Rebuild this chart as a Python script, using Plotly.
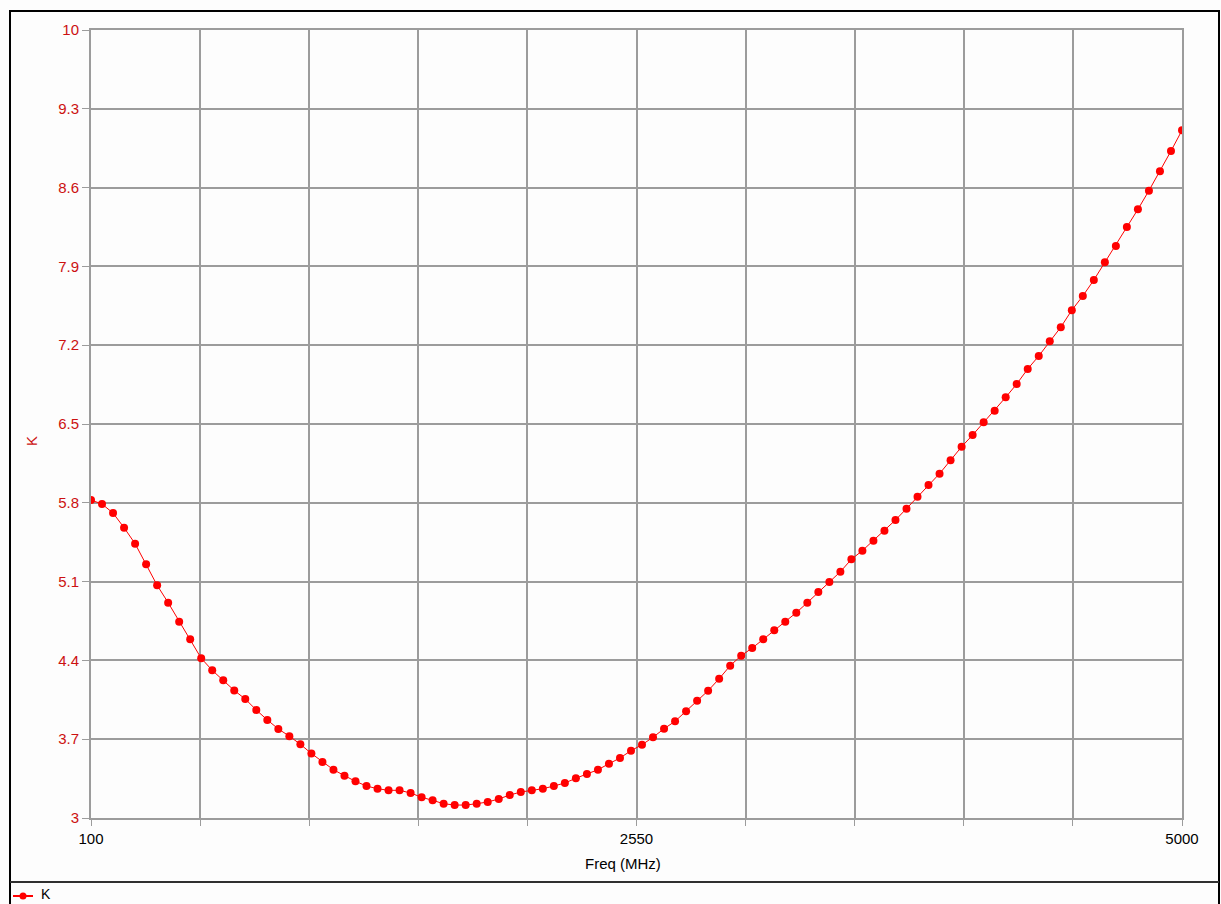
import plotly.graph_objects as go

# ---------------- data ----------------
freq_mhz = [
    100.0, 149.5, 199.0, 248.5, 298.0, 347.5, 397.0, 446.5, 496.0, 545.5,
    594.9, 644.4, 693.9, 743.4, 792.9, 842.4, 891.9, 941.4, 990.9, 1040.4,
    1089.9, 1139.4, 1188.9, 1238.4, 1287.9, 1337.4, 1386.9, 1436.4, 1485.9, 1535.4,
    1584.8, 1634.3, 1683.8, 1733.3, 1782.8, 1832.3, 1881.8, 1931.3, 1980.8, 2030.3,
    2079.8, 2129.3, 2178.8, 2228.3, 2277.8, 2327.3, 2376.8, 2426.3, 2475.8, 2525.3,
    2574.7, 2624.2, 2673.7, 2723.2, 2772.7, 2822.2, 2871.7, 2921.2, 2970.7, 3020.2,
    3069.7, 3119.2, 3168.7, 3218.2, 3267.7, 3317.2, 3366.7, 3416.2, 3465.7, 3515.2,
    3564.6, 3614.1, 3663.6, 3713.1, 3762.6, 3812.1, 3861.6, 3911.1, 3960.6, 4010.1,
    4059.6, 4109.1, 4158.6, 4208.1, 4257.6, 4307.1, 4356.6, 4406.1, 4455.6, 4505.1,
    4554.5, 4604.0, 4653.5, 4703.0, 4752.5, 4802.0, 4851.5, 4901.0, 4950.5, 5000.0,
]

k_values = [
    5.825, 5.789, 5.709, 5.579, 5.437, 5.254, 5.067, 4.913, 4.744, 4.588,
    4.419, 4.312, 4.223, 4.133, 4.057, 3.959, 3.871, 3.791, 3.727, 3.655,
    3.573, 3.497, 3.429, 3.376, 3.326, 3.284, 3.260, 3.246, 3.246, 3.222,
    3.184, 3.157, 3.127, 3.115, 3.115, 3.127, 3.142, 3.169, 3.204, 3.231,
    3.246, 3.260, 3.284, 3.311, 3.353, 3.391, 3.429, 3.482, 3.533, 3.598,
    3.651, 3.717, 3.793, 3.859, 3.948, 4.042, 4.131, 4.237, 4.353, 4.442,
    4.510, 4.587, 4.667, 4.744, 4.824, 4.913, 5.008, 5.096, 5.188, 5.298,
    5.375, 5.463, 5.552, 5.647, 5.748, 5.854, 5.958, 6.059, 6.178, 6.298,
    6.402, 6.515, 6.618, 6.737, 6.855, 6.989, 7.104, 7.236, 7.360, 7.511,
    7.637, 7.779, 7.936, 8.081, 8.250, 8.407, 8.573, 8.745, 8.925, 9.109,
]

x_tick_vals = [100, 590, 1080, 1570, 2060, 2550, 3040, 3530, 4020, 4510, 5000]
x_tick_text = ["100", "", "", "", "", "2550", "", "", "", "", "5000"]
y_tick_vals = [3, 3.7, 4.4, 5.1, 5.8, 6.5, 7.2, 7.9, 8.6, 9.3, 10]
y_tick_text = ["3", "3.7", "4.4", "5.1", "5.8", "6.5", "7.2", "7.9", "8.6", "9.3", "10"]

series_name = "K"
x_title = "Freq (MHz)"
y_title = "K"

# ---------------- layout geometry (pixels) ----------------
W, H = 1221, 904
PL, PR, PT, PB = 91, 1182, 30, 818   # plot area edges
PW, PH = PR - PL, PB - PT


def px(xp):
    return (xp - PL) / PW


def py(yp):
    return (PB - yp) / PH


RED = "#ff0000"
LABEL_RED = "#cc1111"
GRID = "#9c9c9c"
FONT = "Liberation Sans, Arial, sans-serif"
FS = 15

fig = go.Figure()
fig.add_trace(go.Scatter(
    x=freq_mhz, y=k_values, name=series_name,
    mode="lines+markers",
    line=dict(color=RED, width=1),
    marker=dict(color=RED, size=8, symbol="circle"),
    showlegend=False,
))

# manual legend entry in the framed strip below the chart
LEG_Y = 896
legend_shapes = [
    dict(type="line", xref="paper", yref="paper",
         x0=px(13), x1=px(33), y0=py(LEG_Y), y1=py(LEG_Y),
         line=dict(color=RED, width=2), layer="above"),
    dict(type="circle", xref="paper", yref="paper",
         x0=px(19.5), x1=px(26.5), y0=py(LEG_Y + 3.5), y1=py(LEG_Y - 3.5),
         line=dict(color=RED, width=0), fillcolor=RED, layer="above"),
]

fig.update_layout(
    width=W, height=H,
    margin=dict(l=PL, r=W - PR, t=PT, b=H - PB, pad=0, autoexpand=False),
    paper_bgcolor="#fdfdfd",
    plot_bgcolor="#fdfdfd",
    font=dict(family=FONT, size=FS, color="#000000"),
    showlegend=False,
    xaxis=dict(
        range=[100, 5000], tickmode="array",
        tickvals=x_tick_vals, ticktext=x_tick_text,
        showgrid=True, gridcolor=GRID, gridwidth=2,
        showline=True, linecolor=GRID, linewidth=2, mirror=True,
        ticks="outside", ticklen=6, tickcolor=GRID, tickwidth=1,
        tickfont=dict(family=FONT, size=FS, color="#000000"),
        zeroline=False, fixedrange=True, automargin=False,
    ),
    yaxis=dict(
        range=[3, 10], tickmode="array",
        tickvals=y_tick_vals, ticktext=y_tick_text,
        showgrid=True, gridcolor=GRID, gridwidth=2,
        showline=True, linecolor=GRID, linewidth=2, mirror=True,
        ticks="outside", ticklen=7, tickcolor=GRID, tickwidth=1,
        tickfont=dict(family=FONT, size=FS, color=LABEL_RED),
        zeroline=False, fixedrange=True, automargin=False,
    ),
    annotations=[
        dict(text=x_title, xref="paper", yref="paper", x=px(623), y=py(863),
             xanchor="center", yanchor="middle", showarrow=False,
             font=dict(family=FONT, size=FS, color="#000000")),
        dict(text=y_title, xref="paper", yref="paper", x=px(31), y=py(441),
             xanchor="center", yanchor="middle", showarrow=False, textangle=-90,
             font=dict(family=FONT, size=FS, color=LABEL_RED)),
        dict(text=series_name, xref="paper", yref="paper", x=px(40), y=py(893.5),
             xanchor="left", yanchor="middle", showarrow=False, borderpad=0,
             font=dict(family=FONT, size=14, color="#000000")),
    ],
    shapes=[
        # outer frame
        dict(type="rect", xref="paper", yref="paper",
             x0=px(10), x1=px(1219), y0=py(920), y1=py(11),
             line=dict(color="#000000", width=2), fillcolor="rgba(0,0,0,0)",
             layer="above"),
        # separator above legend area
        dict(type="line", xref="paper", yref="paper",
             x0=px(10), x1=px(1219), y0=py(882), y1=py(882),
             line=dict(color="#303030", width=2), layer="above"),
    ] + legend_shapes,
)

fig.write_html("out.html", config={"displayModeBar": False})
